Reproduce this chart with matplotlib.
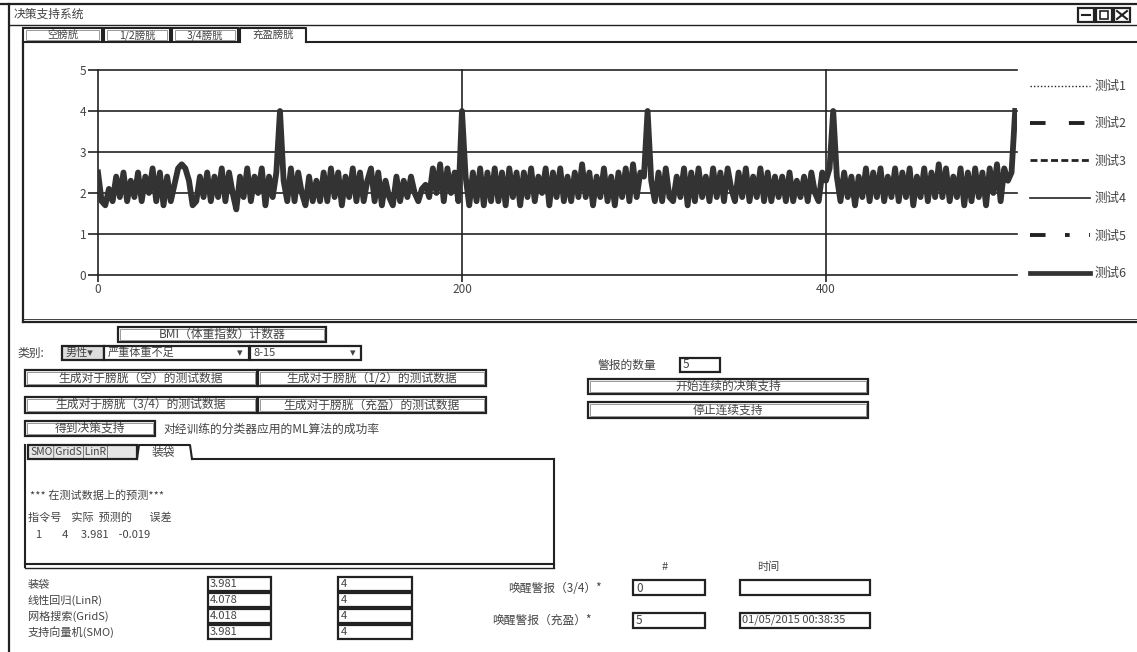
import matplotlib
matplotlib.use("Agg")
import matplotlib.pyplot as plt
from matplotlib.patches import Rectangle
import numpy as np

plt.rcParams['font.family'] = ['Noto Sans CJK SC', 'DejaVu Sans']

# ---------------- data ----------------
x_step = 2
sensor_values = [
    2.5, 1.8, 1.7, 2.1, 1.8, 2.4, 1.9, 2.5, 1.8, 2.3,
    1.9, 2.5, 1.8, 2.4, 2.0, 2.6, 1.8, 2.5, 1.7, 2.4,
    1.8, 2.2, 2.6, 2.7, 2.6, 2.3, 1.7, 1.8, 2.4, 1.9,
    2.5, 1.8, 2.4, 1.9, 2.6, 1.8, 2.5, 2.0, 1.6, 2.4,
    1.9, 2.6, 1.8, 2.4, 2.0, 2.6, 1.7, 2.4, 1.9, 2.5,
    4.0, 2.3, 1.8, 2.6, 1.8, 2.5, 2.0, 1.7, 2.4, 1.8,
    2.3, 1.8, 2.5, 1.8, 2.6, 1.9, 2.5, 1.7, 2.4, 1.9,
    2.6, 1.8, 2.5, 1.8, 2.3, 2.6, 1.8, 2.5, 1.7, 2.3,
    1.9, 1.7, 2.4, 1.8, 2.3, 1.9, 2.4, 2.0, 1.8, 2.1,
    2.2, 1.9, 2.6, 2.0, 2.7, 1.8, 2.6, 2.0, 2.5, 1.8,
    4.0, 2.4, 1.7, 2.5, 1.8, 2.6, 1.7, 2.5, 1.8, 2.6,
    1.8, 2.5, 1.7, 2.6, 1.9, 2.5, 1.7, 2.5, 1.9, 2.6,
    1.8, 2.4, 2.0, 2.6, 1.7, 2.5, 1.9, 2.6, 1.8, 2.4,
    1.8, 2.5, 1.9, 2.7, 1.9, 2.5, 1.7, 2.4, 1.9, 2.6,
    1.8, 2.4, 1.7, 2.5, 1.9, 2.6, 1.8, 2.7, 1.9, 2.5,
    2.4, 4.0, 2.3, 1.8, 2.5, 1.8, 2.6, 1.9, 1.8, 2.4,
    1.9, 2.6, 1.7, 2.5, 1.8, 2.6, 1.9, 2.4, 1.8, 2.6,
    1.9, 2.5, 1.8, 2.6, 2.1, 1.8, 2.5, 1.9, 2.6, 1.8,
    2.4, 1.9, 2.6, 1.8, 2.5, 1.8, 2.4, 1.9, 2.4, 1.8,
    2.5, 1.8, 2.3, 1.9, 2.4, 1.8, 2.5, 2.0, 1.8, 2.5,
    2.3, 2.6, 4.0, 2.4, 1.8, 2.5, 1.9, 2.4, 1.7, 2.4,
    1.9, 2.6, 1.8, 2.5, 1.9, 2.6, 1.8, 2.4, 1.9, 2.6,
    1.8, 2.5, 1.9, 2.6, 1.7, 2.4, 1.9, 2.6, 1.8, 2.5,
    1.9, 2.7, 1.9, 2.6, 1.8, 2.4, 1.9, 2.6, 1.7, 2.5,
    1.8, 2.6, 1.9, 2.5, 1.7, 2.6, 2.0, 2.7, 1.8, 2.6,
    2.3, 2.5, 4.0,
]
x_values = [i * x_step for i in range(len(sensor_values))]
series_labels = ['测试1', '测试2', '测试3', '测试4', '测试5', '测试6']
y_ticks = [0, 1, 2, 3, 4, 5]
x_ticks = [0, 200, 400]

window_title = '决策支持系统'
tab_labels = ['空膀胱', '1/2膀胱', '3/4膀胱', '充盈膀胱']
model_names = ['装袋', '线性回归(LinR)', '网格搜索(GridS)', '支持向量机(SMO)']
model_predictions = ['3.981', '4.078', '4.018', '3.981']
model_actuals = ['4', '4', '4', '4']

# ---------------- figure ----------------
W, H = 1137, 652
fig = plt.figure(figsize=(W / 100, H / 100), dpi=100)
bg = fig.add_axes([0, 0, 1, 1])
bg.set_xlim(0, W)
bg.set_ylim(H, 0)
bg.axis('off')

INK = '#222222'
TXT = '#444444'


def box(x0, y0, x1, y1, lw=1.4, fc='white', ec=INK, z=2):
    bg.add_patch(Rectangle((x0, y0), x1 - x0, y1 - y0, fc=fc, ec=ec, lw=lw, zorder=z))


def button(x0, y0, x1, y1, text, fs=8.5):
    box(x0, y0, x1, y1, lw=1.6)
    bg.add_patch(Rectangle((x0 + 2, y0 + 2), x1 - x0 - 4, y1 - y0 - 4, fc='none', ec='#888888', lw=0.6, zorder=3))
    bg.text((x0 + x1) / 2, (y0 + y1) / 2, text, ha='center', va='center', fontsize=fs, color=TXT, zorder=4)


def hline(y, x0, x1, lw=1.4):
    bg.plot([x0, x1], [y, y], color=INK, lw=lw, zorder=2)


def vline(x, y0, y1, lw=1.4):
    bg.plot([x, x], [y0, y1], color=INK, lw=lw, zorder=2)


def label(x, y, text, fs=8.5, ha='left'):
    bg.text(x, y, text, ha=ha, va='center', fontsize=fs, color=TXT, zorder=4)


# window frame
hline(4, 0, W, lw=1.6)
vline(9, 4, H, lw=1.6)
hline(25, 9, W, lw=1.0)
label(14, 14, window_title, fs=8.5)
for bx in (1078, 1096, 1114):
    box(bx, 8, bx + 16, 22, lw=1.6)
bg.plot([1082, 1090], [15, 15], color=INK, lw=1.5, zorder=4)
box(1100, 11, 1108, 19, lw=1.2, z=4)
bg.plot([1117, 1127], [11, 19], color=INK, lw=1.5, zorder=4)
bg.plot([1117, 1127], [19, 11], color=INK, lw=1.5, zorder=4)

# tabs
tab_x = [(23, 102), (104, 170), (172, 238), (240, 306)]
for i, ((a, b), t) in enumerate(zip(tab_x, tab_labels)):
    if i < 3:
        box(a, 28, b, 42, lw=1.5)
        bg.add_patch(Rectangle((a + 3, 30), b - a - 6, 10, fc='none', ec='#888888', lw=0.6, zorder=3))
    else:
        bg.plot([a, a, b, b], [42, 28, 28, 42], color=INK, lw=1.5, zorder=2)
    label((a + b) / 2, 35, t, fs=7.5, ha='center')
hline(42, 306, W, lw=1.5)
# chart panel
vline(23, 42, 322, lw=1.6)
hline(322, 23, W, lw=1.6)
hline(319, 23, W, lw=0.6)

# ---------------- chart ----------------
L, R, T, B = 98, 1017, 70, 275
ax = fig.add_axes([L / W, 1 - B / H, (R - L) / W, (B - T) / H])
ax.set_xlim(0, 505)
ax.set_ylim(0, 5)
ax.patch.set_alpha(0)
for s in ax.spines.values():
    s.set_visible(False)
ax.set_yticks(y_ticks)
ax.set_xticks(x_ticks)
ax.yaxis.grid(True, color=INK, lw=1.2)
ax.xaxis.grid(True, color=INK, lw=1.2)
ax.tick_params(axis='y', length=7.5, width=1.2, color=INK, pad=1, labelsize=8.5, labelcolor=TXT)
ax.tick_params(axis='x', length=5, width=1.2, color=INK, pad=1, labelsize=8.5, labelcolor=TXT)
for gl in ax.get_ygridlines() + ax.get_xgridlines():
    gl.set_clip_on(False)

styles = [
    dict(color=INK, lw=1.0, ls=(0, (1, 1.5))),
    dict(color=INK, lw=2.8, ls=(0, (4, 6))),
    dict(color=INK, lw=2.0, ls=(0, (2.5, 1.2))),
    dict(color=INK, lw=1.2, ls='-'),
    dict(color=INK, lw=2.8, ls=(0, (4, 5, 1.2, 5))),
    dict(color='#333333', lw=3.4, ls='-'),
]
handles = []
for lab, st in zip(series_labels[:-1], styles[:-1]):
    h, = ax.plot([], [], label=lab, **st)
    handles.append(h)
h6, = ax.plot(x_values, sensor_values, label=series_labels[-1], color='#333333', lw=4.2, ls='-')
leg_h6, = ax.plot([], [], **styles[-1])
handles.append(leg_h6)

leg = ax.legend(handles=handles, labels=series_labels, loc='upper left',
                bbox_to_anchor=(1030 / W, 1 - 80 / H),
                bbox_transform=fig.transFigure, frameon=False, fontsize=9, handlelength=4.8,
                handletextpad=0.4, labelspacing=1.95, borderpad=0, borderaxespad=0)
for t in leg.get_texts():
    t.set_color(TXT)

# ---------------- lower panel ----------------
button(118, 327, 326, 342, 'BMI（体重指数）计数器')
label(17, 353, '类别:')
box(62, 346, 104, 360, lw=1.6, fc='#dddddd')
label(66, 353, '男性▾', fs=8)
box(104, 346, 249, 360, lw=1.6)
label(108, 353, '严重体重不足', fs=8)
label(237, 353, '▾', fs=8)
box(250, 346, 361, 360, lw=1.6)
label(253, 353, '8-15', fs=8)
label(350, 353, '▾', fs=8)

button(25, 370, 257, 386, '生成对于膀胱（空）的测试数据')
button(258, 370, 486, 386, '生成对于膀胱（1/2）的测试数据')
button(25, 397, 257, 413, '生成对于膀胱（3/4）的测试数据')
button(258, 397, 486, 413, '生成对于膀胱（充盈）的测试数据')
button(25, 421, 155, 436, '得到决策支持')
label(163, 429, '对经训练的分类器应用的ML算法的成功率', fs=8.5)

# result tabs
box(28, 445, 137, 459, lw=1.6, fc='#e6e6e6')
label(30, 452, 'SMO|GridS|LinR|', fs=7.5)
bg.plot([137, 139, 190, 192], [459, 445, 445, 459], color=INK, lw=1.5, zorder=2)
label(163, 452, '装袋', fs=8.5, ha='center')
hline(459, 192, 554, lw=1.5)
vline(25, 445, 567, lw=1.5)
vline(554, 459, 567, lw=1.5)
hline(564, 25, 554, lw=1.5)
hline(568, 25, 554, lw=1.0)
label(30, 495, '*** 在测试数据上的预测***', fs=8)
label(28, 517, '指令号    实际  预测的       误差', fs=8)
label(36, 535, '1        4     3.981    -0.019', fs=8)

row_y = [584, 600, 616, 632]
for yy, nm, pv, av in zip(row_y, model_names, model_predictions, model_actuals):
    label(28, yy, nm, fs=8)
    box(208, yy - 7, 271, yy + 7, lw=1.6)
    label(210, yy, pv, fs=8)
    box(338, yy - 7, 412, yy + 7, lw=1.6)
    label(341, yy, av, fs=8)

label(598, 365, '警报的数量', fs=8.5)
box(680, 358, 720, 372, lw=1.6)
label(683, 365, '5', fs=8.5)
button(588, 379, 868, 394, '开始连续的决策支持')
button(588, 402, 868, 418, '停止连续支持')

label(665, 567, '#', fs=8, ha='center')
label(768, 567, '时间', fs=8, ha='center')
label(508, 588, '唤醒警报（3/4）*', fs=8.5)
box(633, 580, 705, 595, lw=1.6)
label(636, 588, '0', fs=8.5)
box(740, 580, 870, 595, lw=1.6)
label(492, 620, '唤醒警报（充盈）*', fs=8.5)
box(633, 613, 705, 628, lw=1.6)
label(636, 620, '5', fs=8.5)
box(740, 613, 870, 628, lw=1.6)
label(742, 620, '01/05/2015 00:38:35', fs=8)

fig.savefig('out.png', dpi=100)
